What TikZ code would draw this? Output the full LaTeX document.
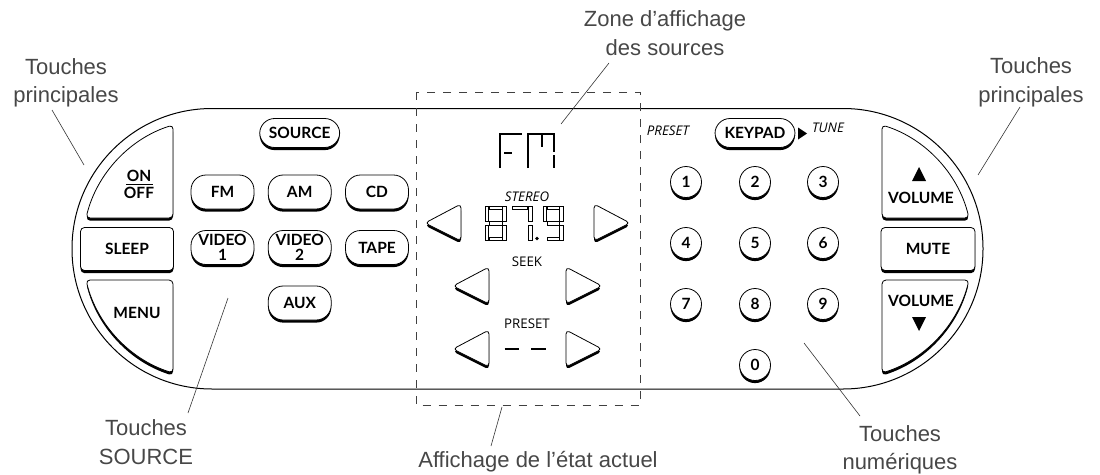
\documentclass[tikz,border=0pt]{standalone}
\usepackage{fontspec}
\setmainfont{Liberation Sans}
\newfontfamily\keyfont{Lato}
\newfontfamily\lcdfont{Open Sans}
\usetikzlibrary{shadows}
\newcommand{\lcdh}[3]{\draw[lcdseg] (#1,#2) rectangle ++(#3,3.5);}
\newcommand{\lcdv}[3]{\draw[lcdseg] (#1,#2) rectangle ++(3.5,#3);}
\tikzset{
	keyshadow/.style={drop shadow={shadow xshift=0pt,shadow yshift=-2.6pt,fill=black,opacity=1}},
	keyface/.style={draw,fill=white,line width=.8pt,rounded corners=4pt,keyshadow},
	keytext/.style={font=\keyfont\bfseries\fontsize{15.5}{15}\selectfont,align=center,inner sep=0pt},
	srckey/.style={keyface,keytext,rounded corners=15pt,minimum width=63pt,minimum height=34pt},
	numkey/.style={circle,draw,fill=white,line width=.8pt,keyshadow,keytext,minimum size=31pt},
	callout/.style={font=\fontsize{22}{28.5}\selectfont,text=black!72,align=center,inner sep=0pt},
	leader/.style={draw=black!80,line width=.6pt},
	lcdtext/.style={font=\lcdfont\fontsize{13.3}{14}\selectfont,inner sep=0pt},
	lcditalic/.style={font=\lcdfont\itshape\fontsize{13.3}{14}\selectfont,inner sep=0pt},
	lcdseg/.style={line width=.9pt},
	fmline/.style={line width=1.8pt}
}
\begin{document}
\begin{tikzpicture}[x=1pt,y=-1pt]
	\useasboundingbox (0,0) rectangle (1100,474);
	
	\draw[line width=1pt,rounded corners=140pt] (72,108.5) rectangle (983,389);
	
	\draw[keyface] (173,218) -- (86,218) .. controls (96.9,173.8) and (129.6,138.7) .. (173,125) -- cycle;
	\draw[keyface] (173,280) -- (86,280) .. controls (96.9,324.2) and (129.6,359.3) .. (173,373) -- cycle;
	\draw[keyface] (882,218) -- (969,218) .. controls (958.1,173.8) and (925.4,138.7) .. (882,125) -- cycle;
	\draw[keyface] (882,280) -- (969,280) .. controls (958.1,324.2) and (925.4,359.3) .. (882,373) -- cycle;
	
	\node[keyface,keytext,minimum width=93pt,minimum height=43pt] (sleep) at (127,249) {SLEEP};
	\node[keyface,keytext,minimum width=94pt,minimum height=43pt] (mute) at (928,249) {MUTE};
	
	\node[keytext] (on) at (139,176) {ON};
	\node[keytext] (off) at (139,193) {OFF};
	\draw[line width=1pt] (126,184.5) -- (153,184.5);
	\node[keytext] (menu) at (137,313) {MENU};
	\node[keytext] (volup) at (921,198) {VOLUME};
	\node[keytext] (voldown) at (921,301) {VOLUME};
	\fill (919,167) -- (926,181) -- (912,181) -- cycle;
	\fill (919,331) -- (926,317) -- (912,317) -- cycle;
	
	\node[srckey,minimum width=80pt,minimum height=29pt] (source) at (299.7,133) {SOURCE};
	\node[srckey] (fm) at (222.5,192) {FM};
	\node[srckey] (am) at (299.7,192) {AM};
	\node[srckey] (cd) at (377,192) {CD};
	\node[srckey] (video1) at (222.5,247.5) {VIDEO\\1};
	\node[srckey] (video2) at (299.7,247.5) {VIDEO\\2};
	\node[srckey] (tape) at (377,247.5) {TAPE};
	\node[srckey] (aux) at (299.7,303) {AUX};
	
	\node[srckey,minimum width=80pt,minimum height=29pt] (keypad) at (755,133) {KEYPAD};
	\fill (798,127.5) -- (807,133.5) -- (798,139.5) -- cycle;
	\node[lcditalic] (tune) at (828,128) {TUNE};
	\node[lcditalic] (presetkey) at (668,131) {PRESET};
	
	\node[numkey] (n1) at (686,182) {1};
	\node[numkey] (n2) at (755,182) {2};
	\node[numkey] (n3) at (823,182) {3};
	\node[numkey] (n4) at (686,243) {4};
	\node[numkey] (n5) at (755,243) {5};
	\node[numkey] (n6) at (823,243) {6};
	\node[numkey] (n7) at (686,304) {7};
	\node[numkey] (n8) at (755,304) {8};
	\node[numkey] (n9) at (823,304) {9};
	\node[numkey] (n0) at (755,365) {0};
	
	\draw[keyface] (461,204) -- (425,223) -- (461,241) -- cycle;
	\draw[keyface] (594,204) -- (630,223) -- (594,241) -- cycle;
	\draw[keyface] (489,267) -- (453,286) -- (489,304) -- cycle;
	\draw[keyface] (566,267) -- (602,286) -- (566,304) -- cycle;
	\draw[keyface] (489,330) -- (453,349) -- (489,367) -- cycle;
	\draw[keyface] (566,330) -- (602,349) -- (566,367) -- cycle;
	
	\draw[fmline] (500,168) -- (500,134) -- (522,134);
	\draw[fmline] (504,153) -- (512,153);
	\draw[fmline] (528,168) -- (528,134) -- (554,134) -- (554,152);
	\draw[fmline] (554,155) -- (554,168);
	\draw[line width=2.4pt] (542,135) -- (542,147);
	
	\lcdh{489}{206}{13}
	\lcdh{489}{221.5}{13}
	\lcdh{489}{237}{13}
	\lcdv{485}{206.5}{15}
	\lcdv{485}{225}{15}
	\lcdv{502.5}{206.5}{15}
	\lcdv{502.5}{225}{15}
	
	\lcdh{512}{206}{15}
	\lcdv{528.5}{206.5}{15}
	\lcdv{528.5}{225}{15}
	\fill (537,238.5) circle (1.8);
	
	\lcdh{547}{206}{12}
	\lcdh{547}{221.5}{12}
	\lcdh{547}{237}{12}
	\lcdv{543}{206.5}{15}
	\lcdv{559.5}{206.5}{15}
	\lcdv{559.5}{225}{15}
	
	\draw[line width=2.4pt] (504.5,349) -- (519,349);
	\draw[line width=2.4pt] (531,349) -- (545.5,349);
	
	\node[lcditalic] (stereo) at (527,197) {STEREO};
	\node[lcdtext] (seek) at (527,262) {SEEK};
	\node[lcdtext] (preset) at (527,324) {PRESET};
	
	\draw[black!75,line width=.9pt,dash pattern=on 8pt off 8pt] (416,92) rectangle (640,405.5);
	
	\node[callout] (zone) at (665,33) {Zone d'affichage\\des sources};
	\node[callout] (mainleft) at (66,83) {Touches\\principales};
	\node[callout] (mainright) at (1031,82.5) {Touches\\principales};
	\node[callout] (srclabel) at (146,442) {Touches\\SOURCE};
	\node[callout] (state) at (538,462) {Affichage de l'état actuel};
	\node[callout] (numlabel) at (900,450) {Touches\\numériques};
	
	\coordinate (zonetip) at (561,124);
	\coordinate (lefttip) at (84,165);
	\coordinate (righttip) at (978,175);
	\coordinate (srctip) at (228,298);
	\coordinate (statetip) at (502,407);
	\coordinate (numtip) at (804,343);
	
	\draw[leader] (zone.center) ++(-56,30) -- (zonetip);
	\draw[leader] (mainleft.center) ++(-14,27) -- (lefttip);
	\draw[leader] (mainright.center) ++(-11,24.5) -- (righttip);
	\draw[leader] (srclabel.center) ++(42,-29) -- (srctip);
	\draw[leader] (state.center) ++(-47,-16) -- (statetip);
	\draw[leader] (numlabel.center) ++(-40,-34) -- (numtip);
\end{tikzpicture}
\end{document}
